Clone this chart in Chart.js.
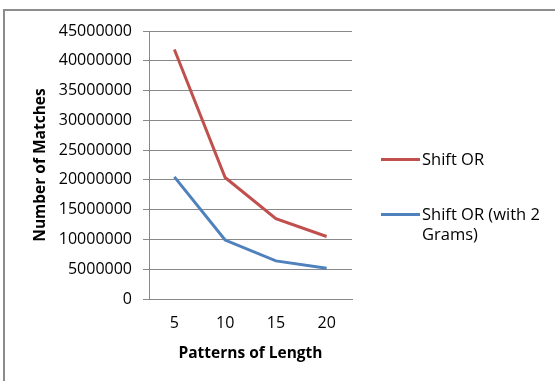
<!DOCTYPE html>
<html>
<head>
<meta charset="utf-8">
<script src="https://cdn.jsdelivr.net/npm/chart.js@4"></script>
<style>
  body { margin: 0; background: #fff; }
  #wrap { position: relative; width: 555px; height: 381px; overflow: hidden; }
  #frame { position: absolute; left: 3px; top: 9px; width: 600px; height: 400px; border: 2px solid #8c8c8c; box-sizing: border-box; }
  #chart { position: absolute; left: 0; top: 0; }
  .legend { position: absolute; font-family: "Open Sans", sans-serif; font-size: 16.5px; color: #000; line-height: 20px; }
  .legend .mark { position: absolute; left: 0; width: 39px; height: 3px; }
  .legend .txt { position: absolute; left: 41px; top: 0; white-space: nowrap; }
</style>
</head>
<body>
<div id="wrap">
  <div id="frame"></div>
  <canvas id="chart" width="555" height="381"></canvas>
  <div class="legend" id="leg1" style="left:381px; top:149px;">
    <div class="mark" style="top:9px; background:#c0504d;"></div>
    <div class="txt">Shift OR</div>
  </div>
  <div class="legend" id="leg2" style="left:381px; top:204px;">
    <div class="mark" style="top:9px; background:#4f81bd;"></div>
    <div class="txt">Shift OR (with 2<br>Grams)</div>
  </div>
</div>
<script>
const chartElement = document.getElementById('chart') ;

// pattern lengths on the x axis
const lengths = ['5', '10', '15', '20'] ;
// number of matches per series
const shiftOr = [41900000, 20400000, 13500000, 10500000] ;
const shiftOr2Grams = [20500000, 9900000, 6400000, 5150000] ;
const seriesNames = ['Shift OR', 'Shift OR (with 2 Grams)'] ;

const gridColor = '#888888' ;
const tickFont = { family: 'Open Sans', size: 16 } ;
const titleFont = { family: 'Open Sans', size: 15.5, weight: 'bold' } ;

const chart = new Chart(chartElement, {
    type: 'line',
    data: {
        labels: lengths,
        datasets: [{
            label: seriesNames[0],
            data: shiftOr,
            borderColor: '#c0504d',
            borderWidth: 3,
            pointRadius: 0,
            tension: 0,
            fill: false
        }, {
            label: seriesNames[1],
            data: shiftOr2Grams,
            borderColor: '#4f81bd',
            borderWidth: 3,
            pointRadius: 0,
            tension: 0,
            fill: false
        }]
    },
    options: {
        responsive: false,
        animation: false,
        layout: {
            padding: { left: 31, top: 31, right: 203, bottom: 0 }
        },
        scales: {
            x: {
                offset: true,
                grid: { display: false, drawTicks: false },
                border: { color: gridColor, width: 1 },
                ticks: { font: tickFont, color: '#000', padding: 15 },
                title: {
                    display: true,
                    text: 'Patterns of Length',
                    font: titleFont,
                    color: '#000',
                    padding: { top: 0, bottom: 18 }
                },
                afterFit: (scale) => { scale.height = 82 ; }
            },
            y: {
                min: 0,
                max: 45000000,
                grid: { color: gridColor, tickLength: 6, lineWidth: 1 },
                border: { color: gridColor, width: 1 },
                ticks: {
                    stepSize: 5000000,
                    font: tickFont,
                    color: '#000',
                    padding: 11,
                    callback: (v) => v.toString()
                },
                title: {
                    display: true,
                    text: 'Number of Matches',
                    font: titleFont,
                    color: '#000',
                    padding: 0
                },
                afterFit: (scale) => { scale.width = 118 ; }
            }
        },
        plugins: {
            legend: { display: false },
            tooltip: { enabled: false }
        }
    }
});
</script>
</body>
</html>
